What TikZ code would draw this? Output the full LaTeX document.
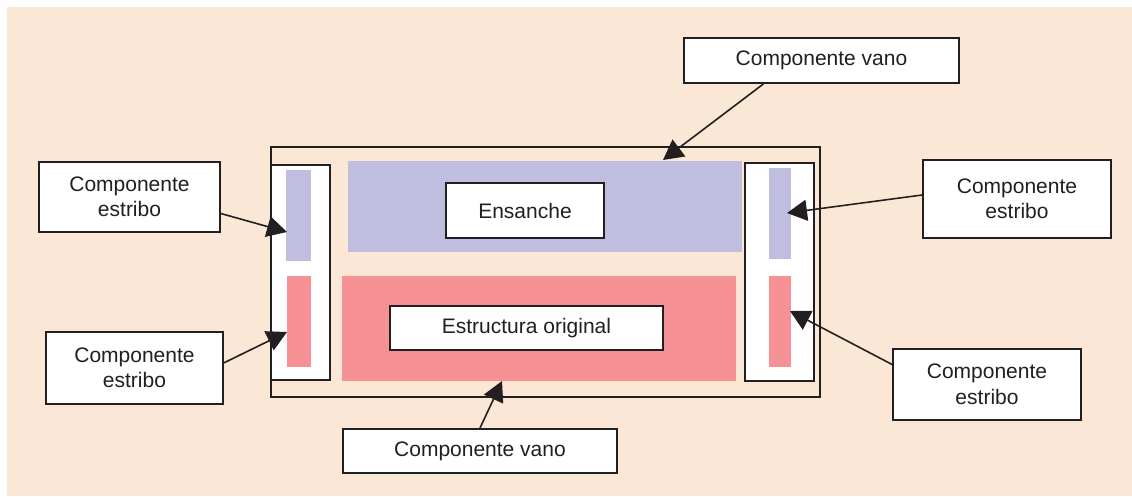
\documentclass[tikz,border=0pt]{standalone}
\usepackage{fontspec}
\setmainfont{Liberation Sans}
\usetikzlibrary{arrows.meta,calc}
\definecolor{bgbeige}{HTML}{FAE7D5}
\definecolor{lav}{HTML}{BFBEDE}
\definecolor{pinkf}{HTML}{F69295}
\definecolor{ink}{HTML}{231F20}
\tikzset{
  lbl/.style={draw=ink, fill=white, line width=2pt, inner sep=0pt, align=center,
    text=ink, font=\fontsize{21}{25.5}\selectfont},
  frame/.style={draw=ink, line width=2pt},
  conn/.style={draw=ink, line width=1.6pt, -{Triangle[length=20pt,width=21pt]}}
}
\begin{document}
\begin{tikzpicture}[x=1pt,y=-1pt]
\useasboundingbox (0,0) rectangle (1132,496);
\fill[bgbeige] (7,7) rectangle (1132,496);
% outer frame
\draw[frame] (271,147) rectangle (820,397);
% estribo boxes
\draw[frame, fill=white] (271,165) rectangle (330,380);
\draw[frame, fill=white] (745,163) rectangle (814,381);
% strips
\fill[lav] (286,170) rectangle (311,261);
\fill[pinkf] (287,276) rectangle (311,367);
\fill[lav] (769,168) rectangle (791,259);
\fill[pinkf] (769,276) rectangle (791,367);
% main areas
\fill[lav] (348,161) rectangle (742,252);
\fill[pinkf] (342,276) rectangle (736,381);
% inner labels
\node[lbl, minimum width=158pt, minimum height=55pt] (ens) at (525,210.5) {Ensanche};
\node[lbl, minimum width=273pt, minimum height=44pt] (est) at (526.5,328) {Estructura original};
% outer labels
\node[lbl, minimum width=275pt, minimum height=45pt] (tv) at (821.5,60.5) {Componente vano};
\node[lbl, minimum width=274pt, minimum height=44pt] (bv) at (480,451) {Componente vano};
\node[lbl, minimum width=181pt, minimum height=70pt] (lt) at (129.5,197) {Componente\\estribo};
\node[lbl, minimum width=177pt, minimum height=72pt] (lb) at (134.5,368) {Componente\\estribo};
\node[lbl, minimum width=188pt, minimum height=78pt] (rt) at (1017,199) {Componente\\estribo};
\node[lbl, minimum width=188pt, minimum height=71pt] (rb) at (987,384.5) {Componente\\estribo};
% arrow targets
\coordinate (tvtip) at (663,160);
\coordinate (bvtip) at (502,381);
\coordinate (lttip) at (287,232);
\coordinate (lbtip) at (287,332);
\coordinate (rttip) at (787,213);
\coordinate (rbtip) at (790,311);
% connectors
\draw[conn] ($(tv.south west)!0.29!(tv.south east)$) -- (tvtip);
\draw[conn] (bv.north) -- (bvtip);
\draw[conn] ($(lt.north east)!0.73!(lt.south east)$) -- (lttip);
\draw[conn] ($(lb.north east)!0.43!(lb.south east)$) -- (lbtip);
\draw[conn] ($(rt.north west)!0.45!(rt.south west)$) -- (rttip);
\draw[conn] ($(rb.north west)!0.225!(rb.south west)$) -- (rbtip);
\end{tikzpicture}
\end{document}
